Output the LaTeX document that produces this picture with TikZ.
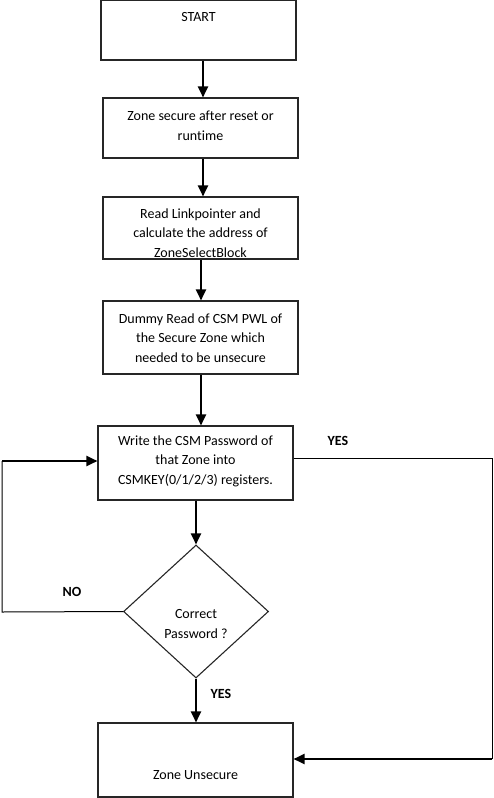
\documentclass[tikz,border=0pt]{standalone}
\usepackage{fontspec}
\setmainfont[Ligatures=NoCommon]{Carlito}
\usetikzlibrary{arrows.meta,shapes.geometric}
\begin{document}
\begin{tikzpicture}[x=1pt,y=-1pt,
  box/.style={draw=black!85, line width=1.1pt, minimum width=195pt, inner sep=0pt},
  txt/.style={align=center, font=\fontsize{14}{19.5}\selectfont, inner sep=0pt},
  lbl/.style={font=\fontsize{14}{17}\selectfont\bfseries, inner sep=0pt},
  flow/.style={line width=2pt, -{Triangle[width=10pt,length=11pt]}},
  thin/.style={line width=1pt}]
\useasboundingbox (0,0) rectangle (493,798);
% boxes
\node[box, minimum height=60pt] (b1) at (198.5,30) {};
\node[txt] (t1) at (198.5,17) {START};
\node[box, minimum height=60pt] (b2) at (200.5,128) {};
\node[txt] (t2) at (200.5,126) {Zone secure after reset or\\runtime};
\node[box, minimum height=62pt] (b3) at (200.5,228) {};
\node[txt] (t3) at (200.5,233) {Read Linkpointer and\\calculate the address of\\ZoneSelectBlock};
\node[box, minimum height=73pt] (b4) at (200.5,337.5) {};
\node[txt] (t4) at (200.5,338) {Dummy Read of CSM PWL of\\the Secure Zone which\\needed to be unsecure};
\node[box, minimum height=74pt] (b5) at (195.5,463) {};
\node[txt] (t5) at (195.5,461) {Write the CSM Password of\\that Zone into\\CSMKEY(0/1/2/3) registers.};
\node[draw=black!85, line width=1.1pt, diamond, minimum width=145pt, minimum height=133pt, inner sep=0pt, aspect=1.09] (d) at (196,611.5) {};
\node[txt] (td) at (196,624) {Correct\\Password ?};
\node[box, minimum height=74pt] (b6) at (195.5,760) {};
\node[txt] (t6) at (195.5,775) {Zone Unsecure};
% labels
\node[lbl] (yes1) at (338,441) {YES};
\node[lbl] (no) at (72,592) {NO};
\node[lbl] (yes2) at (221,694) {YES};
% coordinates
\coordinate (nl1) at (2,612);
\coordinate (nl2) at (2,461);
\coordinate (yr1) at (492,458);
\coordinate (yr2) at (492,759);
% main flow
\draw[flow] (b1.south -| 203,0) -- (b2.north -| 203,0);
\draw[flow] (b2.south -| 203,0) -- (b3.north -| 203,0);
\draw[flow] (b3.south -| 201,0) -- (b4.north -| 201,0);
\draw[flow] (b4.south -| 201,0) -- (b5.north -| 201,0);
\draw[flow] (b5.south -| d.north) -- (d.north);
\draw[flow] (d.south) -- (b6.north -| d.south);
% NO loop
\draw[thin] (d.west) -- (nl1) -- (nl2);
\draw[flow] (nl2) -- (b5.west |- nl2);
% YES loop
\draw[thin] (b5.east |- yr1) -- (yr1) -- (yr2);
\draw[flow] (yr2) -- (b6.east |- yr2);
\end{tikzpicture}
\end{document}
